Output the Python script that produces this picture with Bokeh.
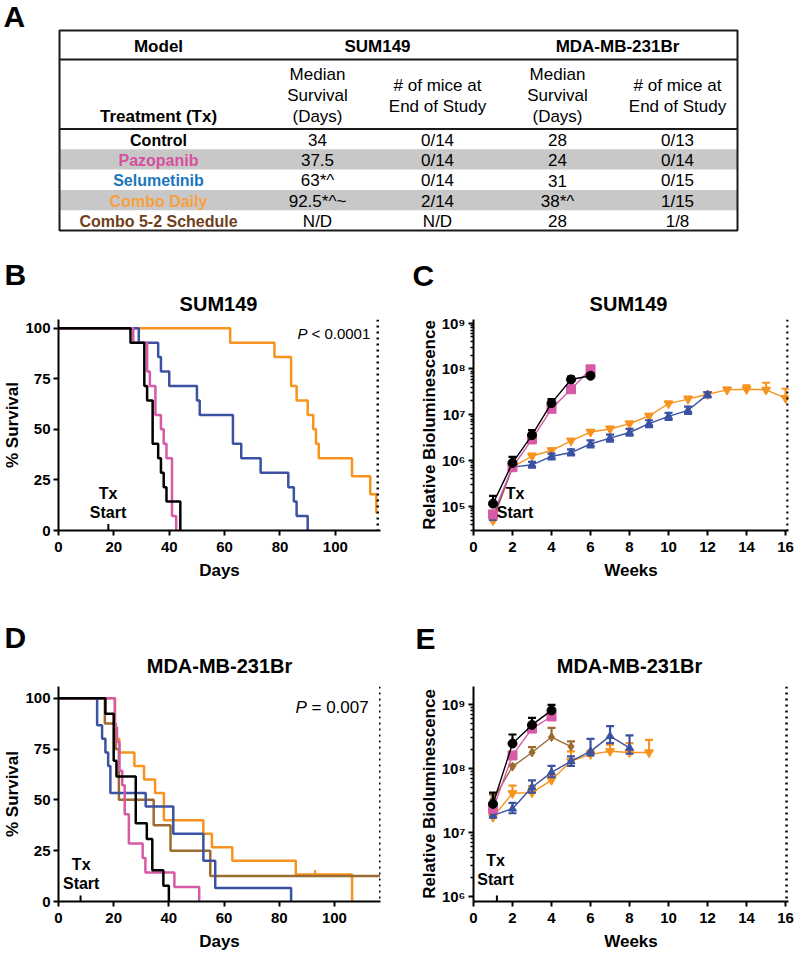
import math
from bokeh.plotting import figure
from bokeh.layouts import column, row
from bokeh.models import (Range1d, Label, FixedTicker, CustomJSTickFormatter, Span)
from bokeh.core.properties import value
from bokeh.embed import file_html
from bokeh.resources import INLINE

FONT = "Liberation Sans"
BLACK = "#000000"
PINK = "#d65aa6"
BLUE = "#3b52a3"
ORANGE = "#f7931e"
BROWN = "#9c6b30"

# ---------------- Panel A: table ----------------
table_models = ["SUM149", "MDA-MB-231Br"]
treatments = ["Control", "Pazopanib", "Selumetinib", "Combo Daily", "Combo 5-2 Schedule"]
treatment_colors = ["#000000", "#d6509f", "#1c75bc", "#f7a140", "#6f3f1b"]
sum149_median = ["34", "37.5", "63*^", "92.5*^~", "N/D"]
sum149_end = ["0/14", "0/14", "0/14", "2/14", "N/D"]
mda_median = ["28", "24", "31", "38*^", "28"]
mda_end = ["0/13", "0/14", "0/15", "1/15", "1/8"]

# ---------------- Panel B: SUM149 survival (days, % survival) ----------------
b_ctrl_days = [0, 26, 31, 32, 34, 36, 37, 38, 39, 44]
b_ctrl_surv = [100, 92.86, 71.43, 64.29, 42.86, 35.71, 28.57, 21.43, 14.29, 0]
b_pazo_days = [0, 27, 32, 33, 35, 37, 38, 39, 41, 42.5]
b_pazo_surv = [100, 92.86, 78.57, 71.43, 57.14, 50, 42.86, 35.71, 7.14, 0]
b_selu_days = [0, 29, 36, 37, 40, 50, 51, 63, 66, 73, 83, 85, 86, 90]
b_selu_surv = [100, 92.86, 85.71, 78.57, 71.43, 64.29, 57.14, 42.86, 35.71, 28.57, 21.43, 14.29, 7.14, 0]
b_combo_days = [0, 62, 78, 84, 86, 90, 92, 93, 94, 106, 112.6, 114.8, 115.3]
b_combo_surv = [100, 92.86, 85.71, 71.43, 64.29, 57.14, 50, 42.86, 35.71, 26.79, 17.86, 8.93, 8.93]
b_study_end = 115.3
b_tx_start = 18

# ---------------- Panel C: SUM149 bioluminescence ----------------
c_ctrl_wk = [1, 2, 3, 4, 5, 6]
c_ctrl = [1.15e5, 8.9e5, 3.6e6, 1.8e7, 5.9e7, 7.1e7]
c_ctrl_up = [1.7e5, 1.2e6, 4.6e6, 2.2e7, 6.8e7, 7.9e7]
c_pazo_wk = [1, 2, 3, 4, 5, 6]
c_pazo = [6.7e4, 7.2e5, 2.9e6, 1.35e7, 3.6e7, 9.8e7]
c_selu_wk = [1, 2, 3, 4, 5, 6, 7, 8, 9, 10, 11, 12]
c_selu = [5.6e4, 7.2e5, 8.1e5, 1.23e6, 1.5e6, 2.3e6, 3.1e6, 4.1e6, 6.4e6, 9.2e6, 1.25e7, 2.75e7]
c_selu_up = [6.0e4, 7.6e5, 9.4e5, 1.42e6, 1.75e6, 2.75e6, 3.7e6, 4.9e6, 7.6e6, 1.1e7, 1.5e7, 3.1e7]
c_selu_lo = [5.2e4, 6.8e5, 7.0e5, 1.06e6, 1.3e6, 1.95e6, 2.6e6, 3.5e6, 5.4e6, 7.7e6, 1.05e7, 2.4e7]
c_combo_wk = [1, 2, 3, 4, 5, 6, 7, 8, 9, 10, 11, 12, 13, 14, 15, 16]
c_combo = [4.9e4, 7.2e5, 1.26e6, 1.66e6, 2.7e6, 4.2e6, 4.9e6, 6.4e6, 9.4e6, 1.75e7, 2.2e7, 2.8e7, 3.5e7, 3.6e7, 3.5e7, 2.3e7]
c_combo_up = [5.2e4, 7.6e5, 1.42e6, 1.85e6, 3.0e6, 4.7e6, 5.5e6, 7.1e6, 1.05e7, 1.95e7, 2.5e7, 3.1e7, 3.9e7, 4.4e7, 5.0e7, 3.7e7]
c_study_end = 16.1

# ---------------- Panel D: MDA-MB-231Br survival ----------------
d_ctrl_days = [0, 17, 20, 21, 28, 32, 34, 38, 40]
d_ctrl_surv = [100, 92.31, 69.23, 61.54, 38.46, 30.77, 15.38, 7.69, 0]
d_pazo_days = [0, 20.4, 21.2, 22.1, 23.1, 24, 25.5, 30.5, 31.5, 42, 51]
d_pazo_surv = [100, 85.71, 78.57, 64.29, 57.14, 42.86, 28.57, 21.43, 14.29, 7.14, 0]
d_selu_days = [0, 14, 15.8, 17, 18, 18.8, 31.6, 41.6, 52.5, 56.8, 84.3]
d_selu_surv = [100, 86.67, 80, 73.33, 66.67, 53.33, 46.67, 33.33, 20, 6.67, 0]
d_combo_days = [0, 20.5, 22, 27.5, 31, 35, 38.2, 52.5, 55.6, 63, 86, 106.4]
d_combo_surv = [100, 80, 73.33, 66.67, 60, 53.33, 40, 33.33, 26.67, 20, 13.33, 0]
d_c52_days = [0, 16.8, 20.7, 21.9, 34.5, 40.6, 55, 116.5]
d_c52_surv = [100, 87.5, 75, 50, 37.5, 25, 12.5, 12.5]
d_combo_censor_day = [93]
d_combo_censor_surv = [13.33]
d_study_end = 116.6
d_tx_start = 8

# ---------------- Panel E: MDA-MB-231Br bioluminescence ----------------
e_ctrl_wk = [1, 2, 3, 4]
e_ctrl = [2.8e7, 2.45e8, 4.8e8, 8.1e8]
e_ctrl_up = [4.2e7, 3.4e8, 6.2e8, 9.9e8]
e_pazo_wk = [1, 2, 3, 4]
e_pazo = [2.35e7, 1.6e8, 4.2e8, 6.5e8]
e_c52_wk = [1, 2, 3, 4, 5]
e_c52 = [3.3e7, 1.07e8, 1.78e8, 3.1e8, 2.2e8]
e_c52_up = [3.9e7, 1.15e8, 2.15e8, 4.3e8, 2.65e8]
e_combo_wk = [1, 2, 3, 4, 5, 6, 7, 8, 9]
e_combo = [1.74e7, 4.1e7, 4.2e7, 6.6e7, 1.3e8, 1.66e8, 1.86e8, 1.78e8, 1.78e8]
e_combo_up = [1.9e7, 5.4e7, 5.3e7, 7.6e7, 1.85e8, 1.9e8, 2.35e8, 2.5e8, 2.8e8]
e_selu_wk = [1, 2, 3, 4, 5, 6, 7, 8]
e_selu = [1.85e7, 2.35e7, 5.1e7, 8.7e7, 1.3e8, 1.85e8, 3.2e8, 2.1e8]
e_selu_up = [2.0e7, 2.9e7, 6.5e7, 1.1e8, 1.55e8, 2.9e8, 4.6e8, 3.3e8]
e_selu_lo = [1.7e7, 2.0e7, 4.2e7, 7.3e7, 1.1e8, 1.6e8, 2.5e8, 1.7e8]
e_study_end = 16.05
e_tx_start = 1.2

W = 798


class Frame:
    """Page-pixel geometry of a plot frame and its data ranges."""
    def __init__(self, left, right, top, bottom, xr, yr, logy=False):
        self.left, self.right, self.top, self.bottom = left, right, top, bottom
        self.xr, self.yr, self.logy = xr, yr, logy

    def dx(self, px):
        return self.xr[0] + (px - self.left) * (self.xr[1] - self.xr[0]) / (self.right - self.left)

    def dy(self, py):
        t = (self.bottom - py) / (self.bottom - self.top)
        if self.logy:
            a, b = math.log10(self.yr[0]), math.log10(self.yr[1])
            return 10 ** (a + t * (b - a))
        return self.yr[0] + t * (self.yr[1] - self.yr[0])


def label(p, fr, px, py, text, size, style="bold", align="center", angle=0.0, color="black"):
    p.add_layout(Label(x=fr.dx(px), y=fr.dy(py), text=text, text_font=FONT,
                       text_font_size=f"{size}px", text_font_style=style,
                       text_align=align, text_baseline="middle", angle=angle,
                       text_color=color))


def canvas_fig(top, bottom):
    p = figure(width=W, height=bottom - top, x_range=Range1d(0, W), y_range=Range1d(bottom, top),
               x_axis_type=None, y_axis_type=None, output_backend="svg",
               toolbar_location=None, min_border=0)
    p.outline_line_color = None
    p.xgrid.grid_line_color = None
    p.ygrid.grid_line_color = None
    return p


def make_panel(fr, fig_left, fig_top, width, height, xlabel, ylabel):
    p = figure(width=width, height=height,
               x_range=Range1d(*fr.xr), y_range=Range1d(*fr.yr),
               y_axis_type="log" if fr.logy else "linear",
               output_backend="svg", toolbar_location=None,
               min_border_left=round(fr.left - fig_left),
               min_border_right=round(fig_left + width - fr.right),
               min_border_top=round(fr.top - fig_top),
               min_border_bottom=round(fig_top + height - fr.bottom))
    p.outline_line_color = None
    p.xgrid.grid_line_color = None
    p.ygrid.grid_line_color = None
    p.xaxis.axis_label = xlabel
    p.yaxis.axis_label = ylabel
    for ax in (p.xaxis[0], p.yaxis[0]):
        ax.axis_line_width = 2
        ax.axis_line_color = "black"
        ax.major_tick_line_width = 2
        ax.major_tick_line_color = "black"
        ax.major_tick_out = 5
        ax.major_tick_in = 0
        ax.minor_tick_line_color = None
        ax.major_label_text_font = FONT
        ax.major_label_text_font_style = "bold"
        ax.major_label_text_font_size = "15px"
        ax.major_label_text_color = "black"
        ax.axis_label_text_font = FONT
        ax.axis_label_text_font_style = "bold"
        ax.axis_label_text_font_size = "17px"
        ax.axis_label_text_color = "black"
    p.xaxis[0].major_label_standoff = 6
    p.xaxis[0].axis_label_standoff = 6
    p.yaxis[0].major_label_standoff = 3
    p.yaxis[0].axis_label_standoff = 0
    return p


SUP_JS = r'''
const s = {"0":"\u2070","1":"\u00b9","2":"\u00b2","3":"\u00b3","4":"\u2074",
           "5":"\u2075","6":"\u2076","7":"\u2077","8":"\u2078","9":"\u2079","-":"\u207b"};
const e = Math.round(Math.log10(tick));
return "10" + String(e).split("").map((c) => s[c]).join("");
'''


def log_axis(p, majors, minors):
    ax = p.yaxis[0]
    ax.ticker = FixedTicker(ticks=majors, minor_ticks=minors)
    ax.formatter = CustomJSTickFormatter(code=SUP_JS)
    ax.minor_tick_line_color = "black"
    ax.minor_tick_line_width = 1.5
    ax.minor_tick_out = 3
    ax.minor_tick_in = 0


def km(p, days, surv, color):
    p.step(days, surv, mode="after", line_color=color, line_width=2.5)


def lum(p, wk, vals, color, marker, size, up=None, lo=None):
    p.line(wk, vals, line_color=color, line_width=1.4)
    for bound in (up, lo):
        if bound is not None:
            p.segment(x0=wk, y0=vals, x1=wk, y1=bound, line_color=color, line_width=2.2)
            p.scatter(wk, bound, marker="dash", size=8, line_color=color, line_width=2.2)
    p.scatter(wk, vals, marker=marker, size=size, fill_color=color, line_color=color)


def ctext(p, xs, ys, texts, size, style="bold", color="black", align="center"):
    p.text(x=xs, y=ys, text=texts, text_font=value(FONT), text_font_style=style,
           text_font_size=f"{size}px", text_align=align, text_baseline="middle",
           text_color=color)


# ======================= Panel A (table) =======================
pa = canvas_fig(0, 250)

col_edges = [59, 257, 377, 497, 617, 737]
col_c = [(a + b) / 2 for a, b in zip(col_edges[:-1], col_edges[1:])]
tbl_top, head_line, sub_line, tbl_bottom = 30, 59, 128.5, 230
pitch = (tbl_bottom - sub_line) / len(treatments)
row_top = [sub_line + i * pitch for i in range(len(treatments))]
row_mid = [t + pitch / 2 + 1 for t in row_top]

shade = [1, 3]
pa.quad(left=col_edges[0], right=col_edges[-1],
        top=[row_top[i] for i in shade], bottom=[row_top[i] + pitch for i in shade],
        fill_color="#c8c8c8", line_color=None)
pa.segment(x0=[col_edges[0]] * 2, x1=[col_edges[-1]] * 2, y0=[head_line, sub_line],
           y1=[head_line, sub_line], line_color="#1a1a1a", line_width=2)
pa.quad(left=col_edges[0], right=col_edges[-1], top=tbl_top, bottom=tbl_bottom,
        fill_color=None, line_color="#1a1a1a", line_width=2)

hdr_y = (tbl_top + head_line) / 2 + 1
ctext(pa, [col_c[0], (col_edges[1] + col_edges[3]) / 2, (col_edges[3] + col_edges[5]) / 2, col_c[0]],
      [hdr_y, hdr_y, hdr_y, 115.5],
      ["Model", table_models[0], table_models[1], "Treatment (Tx)"], 17)
sub_x, sub_y, sub_t = [], [], []
for cx in (col_c[1], col_c[3]):
    for yy, tt in zip([74, 94.8, 115.5], ["Median", "Survival", "(Days)"]):
        sub_x.append(cx); sub_y.append(yy); sub_t.append(tt)
for cx in (col_c[2], col_c[4]):
    for yy, tt in zip([85, 105.5], ["# of mice at", "End of Study"]):
        sub_x.append(cx); sub_y.append(yy); sub_t.append(tt)
ctext(pa, sub_x, sub_y, sub_t, 17, style="normal")
ctext(pa, [col_c[0]] * len(treatments), row_mid, treatments, 16, color=treatment_colors)
vx, vy, vt = [], [], []
for cx, vals in zip(col_c[1:], [sum149_median, sum149_end, mda_median, mda_end]):
    for yy, tt in zip(row_mid, vals):
        vx.append(cx); vy.append(yy); vt.append(tt)
ctext(pa, vx, vy, vt, 17, style="normal")
ctext(pa, [3], [16], ["A"], 30, align="left")

# ======================= strip with B / C headings =======================
s1 = canvas_fig(250, 314)
ctext(s1, [4, 412], [274, 275], ["B", "C"], 30, align="left")
ctext(s1, [218, 628], [303.5, 303.5], ["SUM149", "SUM149"], 20)

# ======================= Panel B =======================
ROW1_TOP, ROW1_H = 314, 286
FB = Frame(58, 380, 319, 530, (0, 116.3), (0, 104.3))
pb = make_panel(FB, 0, ROW1_TOP, 399, ROW1_H, "Days", "% Survival")
pb.xaxis.ticker = FixedTicker(ticks=[0, 20, 40, 60, 80, 100])
pb.yaxis.ticker = FixedTicker(ticks=[0, 25, 50, 75, 100])
pb.add_layout(Span(location=b_study_end, dimension="height", line_color="black",
                   line_width=2.5, line_dash="2 4"))
km(pb, b_combo_days, b_combo_surv, ORANGE)
km(pb, b_selu_days, b_selu_surv, BLUE)
km(pb, b_pazo_days, b_pazo_surv, PINK)
km(pb, b_ctrl_days, b_ctrl_surv, BLACK)
pb.segment(x0=[b_tx_start], y0=[0], x1=[b_tx_start], y1=[FB.dy(523.5)], line_color="black", line_width=2)
label(pb, FB, 107.5, 493.3, "Tx", 16)
label(pb, FB, 107.5, 512.3, "Start", 16)
label(pb, FB, 297, 332.7, "P", 15, style="italic", align="left")
label(pb, FB, 311, 332.7, "< 0.0001", 15, style="normal", align="left")

# ======================= Panel C =======================
FC = Frame(473, 788, 319, 530, (0, 16.15), (2.98e4, 1.2e9), logy=True)
pc = make_panel(FC, 399, ROW1_TOP, 399, ROW1_H, "Weeks", "Relative Bioluminescence")
pc.xaxis.ticker = FixedTicker(ticks=[0, 2, 4, 6, 8, 10, 12, 14, 16])
log_axis(pc, [1e5, 1e6, 1e7, 1e8, 1e9],
         [m * 10 ** k for k in range(4, 9) for m in range(2, 10)])
pc.add_layout(Span(location=c_study_end, dimension="height", line_color="black",
                   line_width=2.5, line_dash="2 4"))
lum(pc, c_combo_wk, c_combo, ORANGE, "inverted_triangle", 9, up=c_combo_up)
lum(pc, c_selu_wk, c_selu, BLUE, "triangle", 8, up=c_selu_up, lo=c_selu_lo)
lum(pc, c_pazo_wk, c_pazo, PINK, "square", 9)
lum(pc, c_ctrl_wk, c_ctrl, BLACK, "circle", 9, up=c_ctrl_up)
label(pc, FC, 514.5, 493, "Tx", 16)
label(pc, FC, 514.5, 512, "Start", 16)

# ======================= strip with D / E headings =======================
s2 = canvas_fig(600, 677)
ctext(s2, [4, 415], [637, 637.5], ["D", "E"], 30, align="left")
ctext(s2, [219, 629], [665.5, 665.5], ["MDA-MB-231Br", "MDA-MB-231Br"], 20)

# ======================= Panel D =======================
ROW2_TOP, ROW2_H = 677, 277
FD = Frame(58, 380, 686, 901, (0, 116.7), (0, 105.76))
pd_ = make_panel(FD, 0, ROW2_TOP, 399, ROW2_H, "Days", "% Survival")
pd_.xaxis.ticker = FixedTicker(ticks=[0, 20, 40, 60, 80, 100])
pd_.yaxis.ticker = FixedTicker(ticks=[0, 25, 50, 75, 100])
pd_.add_layout(Span(location=d_study_end, dimension="height", line_color="black",
                    line_width=2.5, line_dash="2 4"))
km(pd_, d_combo_days, d_combo_surv, ORANGE)
km(pd_, d_c52_days, d_c52_surv, BROWN)
km(pd_, d_selu_days, d_selu_surv, BLUE)
km(pd_, d_pazo_days, d_pazo_surv, PINK)
km(pd_, d_ctrl_days, d_ctrl_surv, BLACK)
pd_.segment(x0=d_combo_censor_day, y0=d_combo_censor_surv, x1=d_combo_censor_day,
            y1=[s + 2.2 for s in d_combo_censor_surv], line_color=ORANGE, line_width=2)
pd_.segment(x0=[d_tx_start], y0=[0], x1=[d_tx_start], y1=[FD.dy(895)], line_color="black", line_width=2)
label(pd_, FD, 80.7, 864, "Tx", 16)
label(pd_, FD, 80.7, 883.3, "Start", 16)
label(pd_, FD, 295, 706.7, "P", 17, style="italic", align="left")
label(pd_, FD, 311, 706.7, "= 0.007", 17, style="normal", align="left")

# ======================= Panel E =======================
FE = Frame(473, 788, 686, 901, (0, 16.15), (8.35e5, 1.911e9), logy=True)
pe = make_panel(FE, 399, ROW2_TOP, 399, ROW2_H, "Weeks", "Relative Bioluminescence")
pe.xaxis.ticker = FixedTicker(ticks=[0, 2, 4, 6, 8, 10, 12, 14, 16])
log_axis(pe, [1e6, 1e7, 1e8, 1e9],
         [m * 10 ** k for k in range(6, 9) for m in range(2, 10)])
pe.add_layout(Span(location=e_study_end, dimension="height", line_color="black",
                   line_width=2.5, line_dash="2 4"))
lum(pe, e_combo_wk, e_combo, ORANGE, "inverted_triangle", 9, up=e_combo_up)
lum(pe, e_c52_wk, e_c52, BROWN, "diamond", 9, up=e_c52_up)
lum(pe, e_selu_wk, e_selu, BLUE, "triangle", 8, up=e_selu_up, lo=e_selu_lo)
lum(pe, e_pazo_wk, e_pazo, PINK, "square", 9)
lum(pe, e_ctrl_wk, e_ctrl, BLACK, "circle", 9, up=e_ctrl_up)
pe.segment(x0=[e_tx_start], y0=[FE.yr[0]], x1=[e_tx_start], y1=[FE.dy(895)], line_color="black", line_width=2)
label(pe, FE, 495, 860, "Tx", 16)
label(pe, FE, 495, 879.3, "Start", 16)

layout = column(pa, s1, row(pb, pc), s2, row(pd_, pe))
open("out.html", "w").write(file_html(layout, INLINE))
